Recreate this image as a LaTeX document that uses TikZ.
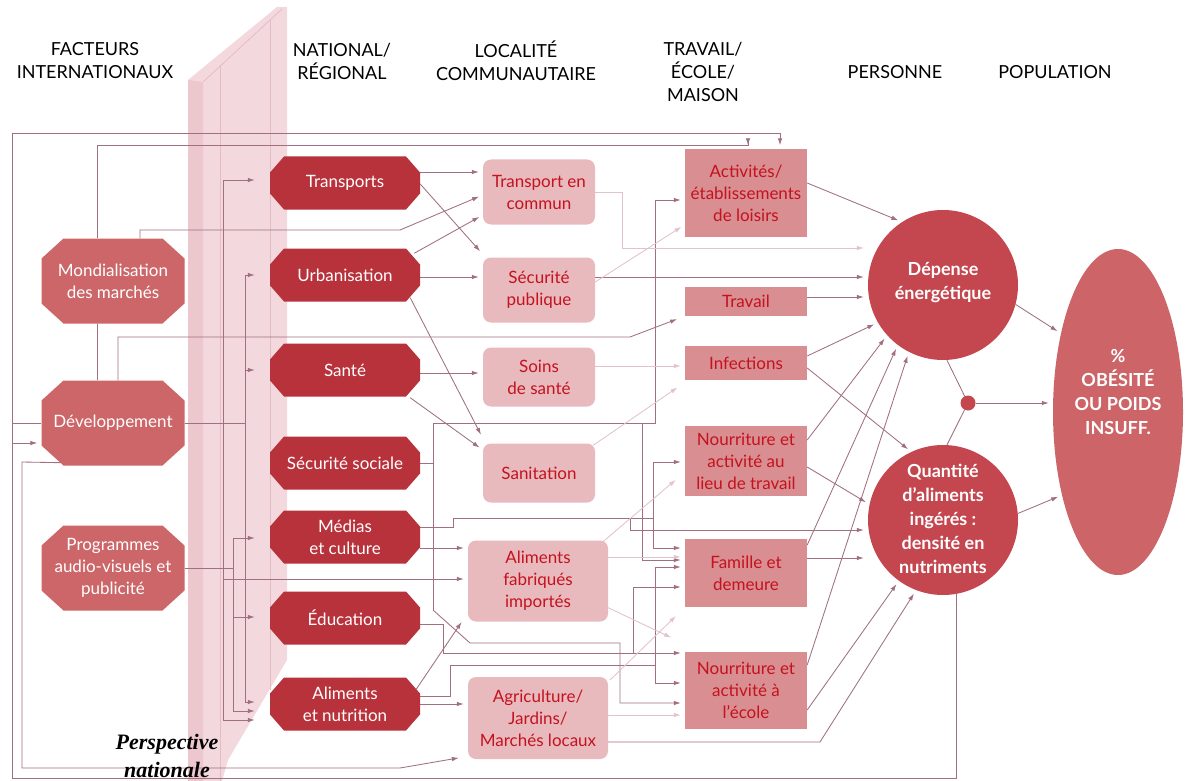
\documentclass[tikz,border=0pt]{standalone}
\usepackage{fontspec}
\setmainfont{Lato}
\newfontfamily\perspfont{Liberation Serif}
\usetikzlibrary{arrows.meta,calc,shapes.geometric}
\pgfdeclarelayer{bg}
\pgfsetlayers{bg,main}

\definecolor{natred}{RGB}{184,50,60}
\definecolor{intred}{RGB}{204,102,104}
\definecolor{locpink}{RGB}{232,186,190}
\definecolor{workpink}{RGB}{217,142,146}
\definecolor{perred}{RGB}{196,70,78}
\definecolor{popred}{RGB}{205,100,104}
\definecolor{txtred}{RGB}{196,18,30}
\definecolor{lnk}{RGB}{160,112,128}
\definecolor{lnklight}{RGB}{226,194,203}
\definecolor{slab}{RGB}{243,217,221}
\definecolor{slabedge}{RGB}{236,200,206}
\definecolor{slabline}{RGB}{228,188,196}

\tikzset{
  octbg/.style n args={3}{path picture={
    \fill[#1]
      ($(path picture bounding box.north west)+(#2,0)$) --
      ($(path picture bounding box.north east)+(-#2,0)$) --
      ($(path picture bounding box.north east)+(0,#3)$) --
      ($(path picture bounding box.south east)+(0,-#3)$) --
      ($(path picture bounding box.south east)+(-#2,0)$) --
      ($(path picture bounding box.south west)+(#2,0)$) --
      ($(path picture bounding box.south west)+(0,-#3)$) --
      ($(path picture bounding box.north west)+(0,#3)$) -- cycle;}},
  nodefont/.style={font=\fontsize{17}{22}\selectfont},
  nat/.style={nodefont, minimum width=150pt, minimum height=53pt, inner sep=0pt,
    text=white, align=center, octbg={natred}{14}{16}},
  intl/.style={nodefont, minimum width=143pt, minimum height=85pt, inner sep=0pt,
    text=white, align=center, octbg={intred}{22}{20}},
  loc/.style={nodefont, rounded corners=8pt, fill=locpink, text=txtred, align=center,
    minimum width=112pt, minimum height=65pt, inner sep=0pt},
  work/.style={nodefont, fill=workpink, text=txtred, align=center,
    minimum width=122pt, inner sep=0pt},
  per/.style={circle, fill=perred, minimum size=150pt, inner sep=0pt},
  bigtxt/.style={font=\bfseries\fontsize{18}{24}\selectfont, text=white, align=center},
  hdr/.style={font=\fontsize{18}{23}\selectfont, align=center},
  ln/.style={draw=lnk, line width=0.85pt},
  lnl/.style={draw=lnklight, line width=0.85pt},
  arr/.style={ln, -{Latex[length=7pt,width=4.5pt]}, shorten >=4pt},
  arrl/.style={lnl, -{Latex[length=7pt,width=4.5pt]}, shorten >=4pt},
  natarr/.style={arr, shorten >=15pt},
}

\begin{document}
\begin{tikzpicture}[x=1pt,y=-1pt]
\useasboundingbox (0,0) rectangle (1186,781);

% column headings
\node[hdr] (hint) at (95,61) {FACTEURS\\INTERNATIONAUX};
\node[hdr] (hnat) at (342,61) {NATIONAL/\\RÉGIONAL};
\node[hdr] (hloc) at (516,61) {LOCALITÉ\\COMMUNAUTAIRE};
\node[hdr] (htra) at (703,72) {TRAVAIL/\\ÉCOLE/\\MAISON};
\node[hdr] (hper) at (895,72) {PERSONNE};
\node[hdr] (hpop) at (1055,72) {POPULATION};

% international factors
\node[intl] (mond) at (113,281) {Mondialisation\\des marchés};
\node[intl] (dev) at (113,423) {Développement};
\node[intl] (prog) at (113,568) {Programmes\\audio-visuels et\\publicité};

% national / regional level
\node[nat] (trans) at (345,183) {Transports};
\node[nat] (urb) at (345,275) {Urbanisation};
\node[nat] (sante) at (345,370) {Santé};
\node[nat] (secsoc) at (345,463) {Sécurité sociale};
\node[nat] (medias) at (345,537) {Médias\\et culture};
\node[nat] (educ) at (345,618) {Éducation};
\node[nat] (alim) at (345,704) {Aliments\\et nutrition};

% community level
\node[loc] (tc) at (539,192) {Transport en\\commun};
\node[loc] (secpub) at (539,290) {Sécurité\\publique};
\node[loc, minimum height=59pt] (soins) at (539,377) {Soins\\de santé};
\node[loc, minimum height=59pt] (sanit) at (539,473) {Sanitation};
\node[loc, minimum width=140pt, minimum height=81pt] (afi) at (538,581) {Aliments\\fabriqués\\importés};
\node[loc, minimum width=140pt, minimum height=82pt] (agri) at (538,718) {Agriculture/\\Jardins/\\Marchés locaux};

% work / school / home
\node[work, minimum height=87pt] (act) at (746,193) {Activités/\\établissements\\de loisirs};
\node[work, minimum height=29pt] (trav) at (746,301) {Travail};
\node[work, minimum height=34pt] (inf) at (746,363) {Infections};
\node[work, minimum height=70pt] (ntrav) at (746,461) {Nourriture et\\activité au\\lieu de travail};
\node[work, minimum height=68pt] (fam) at (746,573) {Famille et\\demeure};
\node[work, minimum height=77pt] (ecole) at (746,690) {Nourriture et\\activité à\\l’école};

% person
\node[per] (dep) at (943,285) {};
\node[bigtxt] (dept) at (943,283) {Dépense\\énergétique};
\node[per] (qty) at (943,520) {};
\node[bigtxt] (qtyt) at (943,519) {Quantité\\d’aliments\\ingérés :\\densité en\\nutriments};
\node[circle, fill=perred, minimum size=15pt, inner sep=0pt] (dot) at (968,403) {};

% population
\node[ellipse, fill=popred, minimum width=130pt, minimum height=326pt, inner sep=0pt] (pop) at (1118,412) {};
\node[bigtxt] (popt) at (1118,392) {\%\\OBÉSITÉ\\OU POIDS\\INSUFF.};

% national perspective label
\node[font=\perspfont\bfseries\itshape\fontsize{22}{28}\selectfont, align=center] (persp) at (167,756) {Perspective\\nationale};

\begin{pgfonlayer}{bg}
  \fill[white] (0,0) rectangle (1186,781);
  % the national plane
  \fill[slab] (188,80) -- (277,7) -- (287,7) -- (287,660) -- (228,760) -- (222,781) -- (188,781) -- cycle;
  \fill[slabedge] (188,80) -- (203,82) -- (203,781) -- (188,781) -- cycle;
  \draw[slabline, line width=0.8pt] (203,82) -- (282,9);
  \draw[slabline, line width=0.8pt] (220,66) -- (220,781);
  \draw[slabline, line width=0.8pt] (270,20) -- (270,690);

  % outer feedback loop and top routes
  \draw[arr] (qty.-80) -- (qty.-80 |- 0,778) -- (12,778) -- (12,133) -- (780,133) -- (act.north -| 780,0);
  \draw[ln] (dev.north -| 97,0) -- (mond.south -| 97,0);
  \draw[arr] (mond.north -| 97,0) -- (97,145) -- (748,145) -- (act.north -| 748,0);
  \draw[ln] (dev.west) -- (12,423);
  \draw[arr] (12,443) -- (dev.west |- 0,443);
  \draw[arr] ($(dev.south west)+(20,-3)$) -- (22,462) -- (22,768) -- (400,768) -- ($(agri.south west)+(-5,-2)$);
  \draw[arr] (mond.north -| 140,0) -- (140,230) -- (400,230) -- (tc.west |- 0,195);
  \draw[arr] (dev.north -| 118,0) -- (118,337) -- (630,337) -- ($(trav.south west)+(-4,2)$);

  % distribution across the national plane
  \draw[ln] (223,180) -- (223,720);
  \draw[natarr] (223,180) -- (trans.west |- 0,180);
  \draw[natarr] (223,720) -- (alim.west |- 0,720);
  \draw[arr] (223,579) -- (afi.west |- 0,579);
  \draw[ln] (prog.east) -- (233,568);
  \draw[ln] (233,538) -- (233,711);
  \draw[natarr] (233,538) -- (medias.west |- 0,538);
  \draw[natarr] (233,617) -- (educ.west |- 0,617);
  \draw[natarr] (233,711) -- (alim.west |- 0,711);
  \draw[ln] (dev.east) -- (245,423);
  \draw[ln] (245,275) -- (245,702);
  \draw[natarr] (245,275) -- (urb.west);
  \draw[natarr] (245,370) -- (sante.west);
  \draw[natarr] (245,702) -- (alim.west |- 0,702);

  % national -> community
  \draw[arr] (trans.east |- 0,172) -- (tc.west |- 0,172);
  \draw[arr] ($(trans.east)+(0,1)$) -- ($(secpub.north west)+(0,-3)$);
  \draw[arr] ($(urb.north east)+(-6,5)$) -- ($(tc.west)+(0,23)$);
  \draw[arr] (urb.east |- 0,277) -- (secpub.west |- 0,277);
  \draw[arr] ($(urb.south east)+(-10,-4)$) -- ($(sanit.north west)+(0,-5)$);
  \draw[arr] (sante.east |- 0,373) -- (soins.west |- 0,373);
  \draw[arr] ($(sante.south east)+(-10,1)$) -- ($(sanit.west)+(0,-23)$);

  % sécurité sociale
  \draw[ln] (secsoc.east) -- (433,463);
  \draw[arr] (433,610) -- (433,423) -- (655,423) -- (655,200) -- (act.west |- 0,200);
  \draw[arr] (642,423) -- (642,560) -- (fam.west |- 0,560);
  \draw[arr] (433,610) -- (470,643) -- (620,643) -- (620,703) -- (ecole.west |- 0,703);

  % médias et culture
  \draw[arr] (medias.east |- 0,548) -- (afi.west |- 0,548);
  \draw[ln] (medias.east |- 0,527) -- (453,527) -- (453,518) -- (653,518);
  \draw[arr] (653,518) -- (653,462) -- (ntrav.west |- 0,462);
  \draw[arr] (653,518) -- (653,548) -- (fam.west |- 0,548);
  \draw[arr] (630,518) -- (630,530) -- (qty.west |- 0,530);

  % éducation
  \draw[ln] (educ.east |- 0,624) -- (443,624) -- (443,653);
  \draw[arr] (443,653) -- (ecole.west |- 0,653);
  \draw[arr] (633,653) -- (633,587) -- (fam.west |- 0,587);

  % aliments et nutrition
  \draw[arr] ($(alim.north east)+(-4,12)$) -- ($(afi.south west)+(-4,-3)$);
  \draw[arr] (alim.east |- 0,704) -- (agri.west |- 0,704);
  \draw[ln] (alim.east |- 0,696) -- (450,696) -- (450,665) -- (655,665);
  \draw[arr] (655,665) -- (655,567) -- (fam.west |- 0,567);
  \draw[arr] (655,665) -- (655,683) -- (ecole.west |- 0,683);

  % community -> work / school / home and person
  \draw[arrl] (tc.east) -- (622,192) -- (622,248) -- (dep.west |- 0,248);
  \draw[arr] (secpub.east |- 0,277) -- (dep.west |- 0,277);
  \draw[arrl] ($(secpub.east)+(0,-8)$) -- ($(act.south west)+(0,-12)$);
  \draw[arr] (trav.east |- 0,297) -- (dep.west |- 0,297);
  \draw[arr] (act.east |- 0,183) -- (dep.123);
  \draw[arrl] (soins.east |- 0,366) -- (inf.west |- 0,366);
  \draw[arrl] ($(sanit.north east)+(-2,2)$) -- ($(inf.south west)+(-4,5)$);
  \draw[arr] (inf.east |- 0,356) -- (dep.210);
  \draw[arr] (inf.east |- 0,368) -- (qty.115);
  \draw[arr] (ntrav.east |- 0,440) -- (dep.222);
  \draw[arr] (ntrav.east |- 0,467) -- (qty.168);
  \draw[arr] (fam.east |- 0,545) -- (dep.233);
  \draw[arr] (fam.east |- 0,558) -- (qty.west |- 0,558);
  \draw[arr] (ecole.east |- 0,665) -- (dep.243);
  \draw[arr] (ecole.east |- 0,710) -- (qty.234);
  \draw[arr] (agri.east |- 0,742) -- (820,742) -- (qty.249);
  \draw[arrl] ($(afi.north east)+(-6,2)$) -- ($(ntrav.south west)+(-6,-19)$);
  \draw[arrl] (afi.east |- 0,557) -- (fam.west |- 0,557);
  \draw[arrl] ($(afi.south east)+(0,-14)$) -- ($(ecole.north west)+(-10,-12)$);
  \draw[arrl] ($(agri.north east)+(2,3)$) -- ($(fam.south west)+(-6,6)$);
  \draw[arrl] (agri.east |- 0,715) -- (ecole.west |- 0,715);

  % person -> population
  \draw[arr] (dep.-15) -- (pop.126);
  \draw[arr] (qty.5) -- (pop.236);
  \draw[ln] (dep.-87) -- (dot);
  \draw[ln] (dot) -- (qty.87);
  \draw[arr] (dot) -- (pop.west |- dot);
\end{pgfonlayer}
\end{tikzpicture}
\end{document}
